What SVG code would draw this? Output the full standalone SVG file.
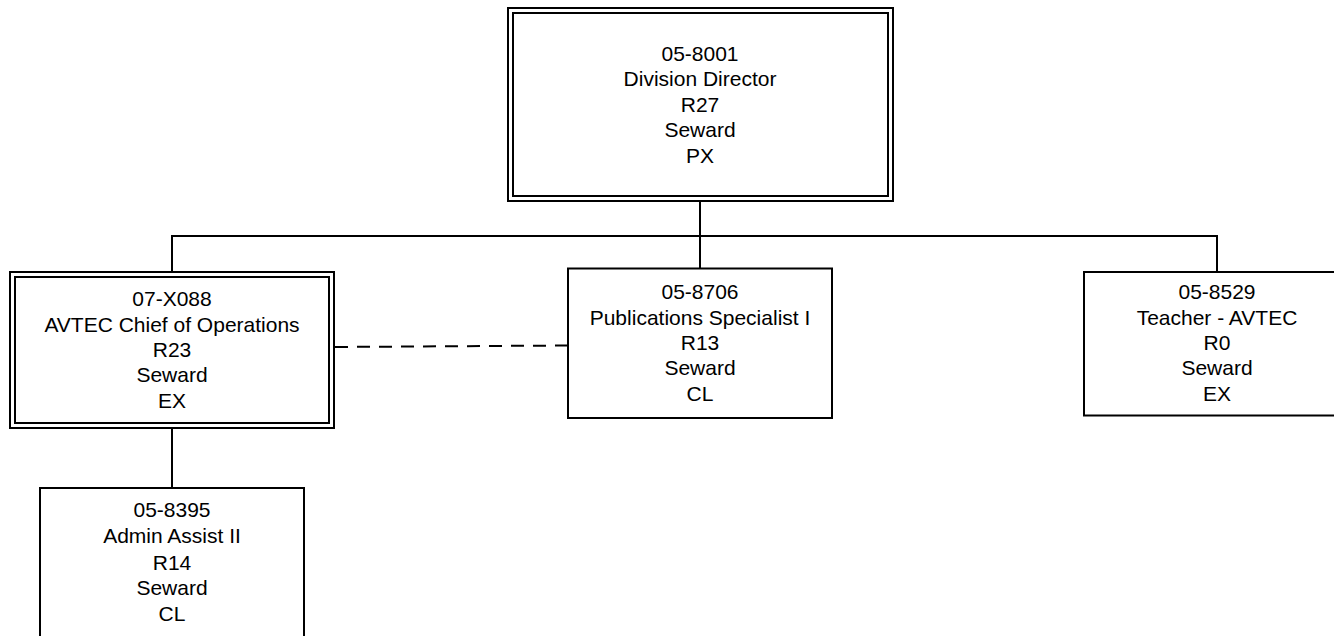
<svg xmlns="http://www.w3.org/2000/svg" width="1334" height="636" viewBox="0 0 1334 636">
<style>
  .box{fill:#fff;stroke:#000;stroke-width:2}
  .inner{fill:none;stroke:#000;stroke-width:2}
  .ln{fill:none;stroke:#000;stroke-width:2}
  .dash{fill:none;stroke:#000;stroke-width:2;stroke-dasharray:13 9}
  text{font-family:"Liberation Sans",Arial,sans-serif;font-size:21px;fill:#000;text-anchor:middle}
</style>
<rect width="1334" height="636" fill="#fff"/>
<g id="connectors">
  <path class="ln" d="M700 201V268"/>
  <path class="ln" d="M172 272V236H1217V272"/>
  <path class="ln" d="M172 428V488"/>
  <path class="dash" d="M335 347L568 345.5"/>
</g>
<g id="n8001">
  <rect class="box" x="508" y="8" width="385" height="193"/>
  <rect class="inner" x="513" y="13" width="375" height="183"/>
  <text x="700" y="60.5">05-8001</text>
  <text x="700" y="86">Division Director</text>
  <text x="700" y="111.5">R27</text>
  <text x="700" y="137">Seward</text>
  <text x="700" y="162.5">PX</text>
</g>
<g id="nX088">
  <rect class="box" x="10" y="272" width="324" height="156"/>
  <rect class="inner" x="15" y="277" width="314" height="146"/>
  <text x="172" y="306">07-X088</text>
  <text x="172" y="332">AVTEC Chief of Operations</text>
  <text x="172" y="357">R23</text>
  <text x="172" y="382">Seward</text>
  <text x="172" y="408">EX</text>
</g>
<g id="n8706">
  <rect class="box" x="568" y="268.5" width="264" height="149.5"/>
  <text x="700" y="298.5">05-8706</text>
  <text x="700" y="324.5">Publications Specialist I</text>
  <text x="700" y="350">R13</text>
  <text x="700" y="375">Seward</text>
  <text x="700" y="401">CL</text>
</g>
<g id="n8529">
  <rect class="box" x="1084" y="272" width="266" height="143.5"/>
  <text x="1217" y="299">05-8529</text>
  <text x="1217" y="324.5">Teacher - AVTEC</text>
  <text x="1217" y="350">R0</text>
  <text x="1217" y="375">Seward</text>
  <text x="1217" y="401">EX</text>
</g>
<g id="n8395">
  <rect class="box" x="40" y="488" width="264" height="160"/>
  <text x="172" y="517">05-8395</text>
  <text x="172" y="543">Admin Assist II</text>
  <text x="172" y="569.5">R14</text>
  <text x="172" y="595">Seward</text>
  <text x="172" y="621">CL</text>
</g>
</svg>
